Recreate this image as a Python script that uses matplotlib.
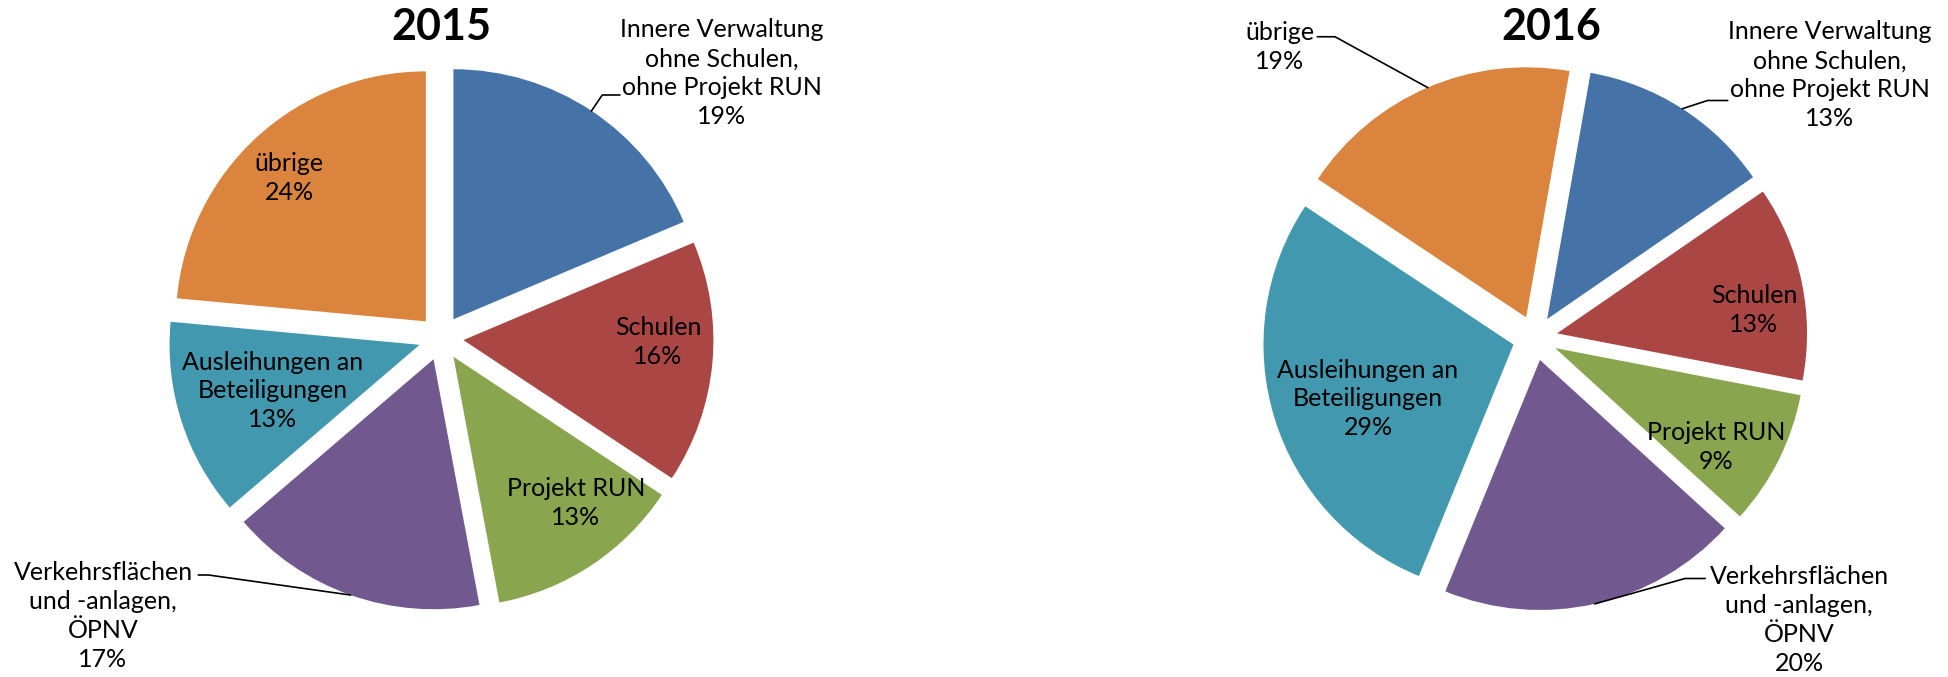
import numpy as np
import matplotlib.pyplot as plt

plt.rcParams['font.family'] = ['Liberation Sans Narrow', 'Lato', 'DejaVu Sans']

# Anteile je Bereich (Prozent)
bereiche = ["Innere Verwaltung\nohne Schulen,\nohne Projekt RUN", "Schulen", "Projekt RUN",
            "Verkehrsflächen\nund -anlagen,\nÖPNV", "Ausleihungen an\nBeteiligungen", "übrige"]
werte_2015 = [19, 16, 13, 17, 13, 24]
werte_2016 = [13, 13, 9, 20, 29, 19]
farben = ["#4572A7", "#AA4643", "#89A54E", "#71588F", "#4198AF", "#DB843D"]


def zeichne_torte(ax, werte, jahr, start, lagen, fuehrung, titel_x):
    wedges, _ = ax.pie(werte, colors=farben, startangle=start, counterclock=False,
                       explode=[0.09] * len(werte), radius=1.0,
                       wedgeprops=dict(linewidth=0))
    ax.set_xlim(-1.2, 1.2)
    ax.set_ylim(-1.2, 1.2)
    ax.set_aspect('equal')
    ax.axis('off')
    ax.text(titel_x, 1.245, jahr, ha='center', va='center', fontsize=31, fontweight='bold')
    for i, (w, name, wert) in enumerate(zip(wedges, bereiche, werte)):
        tx, ty = lagen[i]
        ax.text(tx, ty, f"{name}\n{wert}%", ha='center', va='center', fontsize=18,
                linespacing=1.3)
        if i in fuehrung:
            # Führungslinie vom Bogen (Mitte des Segments) zum Beschriftungsanfang
            mitte = np.deg2rad((w.theta1 + w.theta2) / 2)
            px = 1.09 * np.cos(mitte)
            py = 1.09 * np.sin(mitte)
            (kx, ky), (hx, hy) = fuehrung[i]
            ax.plot([px, kx, hx], [py, ky, hy], color='black', lw=1.2, clip_on=False)


fig = plt.figure(figsize=(19.48, 6.77), dpi=100)
ax1 = fig.add_axes([(441 - 300) / 1948, (677 - 338 - 300) / 677, 600 / 1948, 600 / 677])
ax2 = fig.add_axes([(1535 - 300) / 1948, (677 - 338 - 300) / 677, 600 / 1948, 600 / 677])

lagen_2015 = [(1.124, 1.06), (0.868, -0.016), (0.54, -0.66), (-1.352, -1.112),
              (-0.672, -0.212), (-0.608, 0.64)]
fuehrung_2015 = {0: ((0.645, 0.972), (0.715, 0.972)),
                 3: ((-0.93, -0.948), (-0.97, -0.948))}
zeichne_torte(ax1, werte_2015, "2015", 90, lagen_2015, fuehrung_2015, 0.0)

lagen_2016 = [(1.18, 1.052), (0.876, 0.112), (0.724, -0.436), (1.056, -1.128),
              (-0.668, -0.244), (-1.02, 1.164)]
fuehrung_2016 = {0: ((0.69, 0.95), (0.77, 0.95)),
                 3: ((0.60, -0.962), (0.68, -0.962)),
                 5: ((-0.80, 1.205), (-0.87, 1.205))}
zeichne_torte(ax2, werte_2016, "2016", 80, lagen_2016, fuehrung_2016, 0.064)

fig.savefig("out.png", dpi=100)
